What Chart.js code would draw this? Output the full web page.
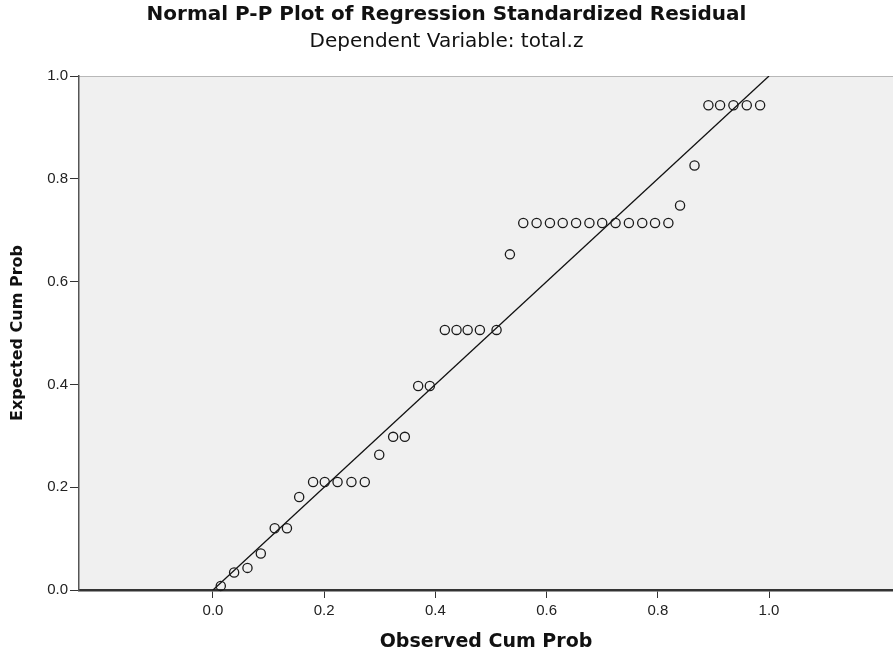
<!DOCTYPE html>
<html>
<head>
<meta charset="utf-8">
<script src="https://cdn.jsdelivr.net/npm/chart.js@4.4.1/dist/chart.umd.min.js"></script>
<style>
    html, body { margin: 0; padding: 0; background: #fff; overflow: hidden; }
    #wrap { width: 893px; height: 654px; }
</style>
</head>
<body>
<div id="wrap"><canvas id="ppChart"></canvas></div>
<script>
// observed vs expected cumulative probabilities
const observed = [0.014, 0.038, 0.062, 0.086, 0.111, 0.133, 0.155, 0.180, 0.201, 0.224,
    0.249, 0.273, 0.299, 0.324, 0.345, 0.369, 0.390, 0.417, 0.438, 0.458,
    0.480, 0.510, 0.534, 0.558, 0.582, 0.606, 0.629, 0.653, 0.677, 0.700,
    0.724, 0.748, 0.772, 0.795, 0.819, 0.840, 0.866, 0.891, 0.912, 0.936,
    0.960, 0.984];
const expected = [0.008, 0.034, 0.043, 0.071, 0.120, 0.120, 0.181, 0.210, 0.210, 0.210,
    0.210, 0.210, 0.263, 0.298, 0.298, 0.397, 0.397, 0.506, 0.506, 0.506,
    0.506, 0.506, 0.653, 0.714, 0.714, 0.714, 0.714, 0.714, 0.714, 0.714,
    0.714, 0.714, 0.714, 0.714, 0.714, 0.748, 0.826, 0.943, 0.943, 0.943,
    0.943, 0.943];
const refLine = [0, 1];
const xTicks = [0.0, 0.2, 0.4, 0.6, 0.8, 1.0];
const yTicks = [0.0, 0.2, 0.4, 0.6, 0.8, 1.0];

const FONT = "'Liberation Sans', Arial, sans-serif";
const WIDE = "'DejaVu Sans', sans-serif";

const plotBackground = {
    id: 'plotBackground',
    beforeDraw(chart) {
        const { ctx, chartArea } = chart;
        ctx.save();
        ctx.fillStyle = '#f0f0f0';
        ctx.fillRect(chartArea.left, chartArea.top, chartArea.right - chartArea.left, chartArea.bottom - chartArea.top);
        // light frame line along the top
        ctx.strokeStyle = '#b8b8b8';
        ctx.lineWidth = 1;
        ctx.beginPath();
        ctx.moveTo(chartArea.left, chartArea.top + 0.5);
        ctx.lineTo(chartArea.right, chartArea.top + 0.5);
        ctx.stroke();
        ctx.restore();
    }
};

const points = observed.map((x, i) => ({ x: x, y: expected[i] }));

new Chart(document.getElementById('ppChart'), {
    type: 'scatter',
    data: {
        datasets: [{
            label: 'Observed',
            data: points,
            pointStyle: 'circle',
            pointRadius: 4.6,
            pointBorderWidth: 1.3,
            pointBorderColor: '#1a1a1a',
            pointBackgroundColor: 'rgba(0,0,0,0)',
            clip: false
        }, {
            type: 'line',
            label: 'Reference',
            data: refLine.map(v => ({ x: v, y: v })),
            borderColor: '#111',
            borderWidth: 1.3,
            pointRadius: 0,
            fill: false
        }]
    },
    options: {
        responsive: true,
        maintainAspectRatio: false,
        animation: false,
        layout: { autoPadding: false, padding: 0 },
        plugins: {
            legend: { display: false },
            tooltip: { enabled: false },
            title: {
                display: true,
                text: 'Normal P-P Plot of Regression Standardized Residual',
                color: '#111',
                font: { family: WIDE, size: 20, weight: 'bold' },
                padding: { top: 3, bottom: 2 }
            },
            subtitle: {
                display: true,
                text: 'Dependent Variable: total.z',
                color: '#111',
                font: { family: WIDE, size: 20 },
                padding: { top: 1, bottom: 22 }
            }
        },
        scales: {
            x: {
                type: 'linear',
                min: -0.241,
                max: 1.223,
                afterBuildTicks: function (scale) {
                    scale.ticks = xTicks.map(v => ({ value: v }));
                },
                afterFit: function (scale) {
                    scale.height = 64;
                    scale.paddingLeft = 0;
                    scale.paddingRight = 0;
                },
                grid: { drawOnChartArea: false, drawTicks: true, tickLength: 8, color: '#333', lineWidth: 1 },
                border: { display: true, color: '#333', width: 2.5 },
                ticks: {
                    color: '#222',
                    padding: 4,
                    font: { family: FONT, size: 15 },
                    callback: v => v.toFixed(1)
                },
                title: {
                    display: true,
                    text: 'Observed Cum Prob',
                    color: '#111',
                    font: { family: WIDE, size: 19, weight: 'bold' },
                    padding: { top: 0, bottom: 1 }
                }
            },
            y: {
                type: 'linear',
                min: 0,
                max: 1,
                afterBuildTicks: function (scale) {
                    scale.ticks = yTicks.map(v => ({ value: v }));
                },
                afterFit: function (scale) {
                    scale.width = 79;
                },
                grid: { drawOnChartArea: false, drawTicks: true, tickLength: 9, color: '#333', lineWidth: 1 },
                border: { display: true, color: '#555', width: 1.5 },
                ticks: {
                    color: '#222',
                    padding: 2,
                    font: { family: FONT, size: 15 },
                    callback: v => v.toFixed(1)
                },
                title: {
                    display: true,
                    text: 'Expected Cum Prob',
                    color: '#111',
                    font: { family: WIDE, size: 16, weight: 'bold' },
                    padding: { top: 8, bottom: 0 }
                }
            }
        }
    },
    plugins: [plotBackground]
});
</script>
</body>
</html>
